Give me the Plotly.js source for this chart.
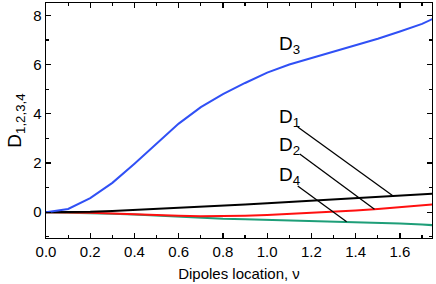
<!DOCTYPE html>
<html><head><meta charset="utf-8">
<script src="https://cdn.plot.ly/plotly-3.0.1.min.js"></script>
<style>html,body{margin:0;padding:0;background:#fff}#plot{width:436px;height:284px}</style>
</head><body><div id="plot"></div>
<script>
const nu = [0,0.1,0.2,0.3,0.4,0.5,0.6,0.7,0.8,0.9,1.0,1.1,1.2,1.3,1.4,1.5,1.6,1.7,1.75];
const D1 = [0,0.005,0.02,0.05,0.09,0.13,0.17,0.22,0.26,0.31,0.36,0.41,0.46,0.51,0.57,0.62,0.67,0.72,0.75];
const D2 = [0,-0.005,-0.02,-0.05,-0.09,-0.13,-0.15,-0.17,-0.17,-0.15,-0.12,-0.08,-0.04,0.01,0.07,0.13,0.2,0.27,0.31];
const D3 = [0,0.13,0.57,1.19,1.97,2.8,3.6,4.27,4.8,5.25,5.67,6.0,6.26,6.53,6.8,7.05,7.34,7.65,7.86];
const D4 = [0,-0.01,-0.03,-0.06,-0.1,-0.15,-0.2,-0.24,-0.27,-0.29,-0.31,-0.33,-0.35,-0.37,-0.39,-0.42,-0.46,-0.5,-0.53];
const xTicks = [0,0.2,0.4,0.6,0.8,1.0,1.2,1.4,1.6];
const xTickLabels = ['0.0','0.2','0.4','0.6','0.8','1.0','1.2','1.4','1.6'];
const yTicks = [0,2,4,6,8];
const labels = [
  {name:'1', tx:1.043, ty:3.83, lx0:1.138, ly0:3.46, lx1:1.571, ly1:0.65},
  {name:'2', tx:1.043, ty:2.69, lx0:1.147, ly0:2.36, lx1:1.485, ly1:0.12},
  {name:'3', tx:1.043, ty:6.8},
  {name:'4', tx:1.043, ty:1.47, lx0:1.138, ly0:1.06, lx1:1.359, ly1:-0.39}
];
const font = {family:'Liberation Sans, Arial, sans-serif', color:'#000'};
function tr(y,c){return {x:nu,y:y,mode:'lines',line:{color:c,width:2},hoverinfo:'skip'};}
const data = [tr(D4,'#1e9e78'), tr(D2,'#ff1010'), tr(D1,'#000000'), tr(D3,'#3050f5')];
const shapes = labels.filter(l=>l.lx0!==undefined).map(l=>({type:'line',xref:'x',yref:'y',x0:l.lx0,y0:l.ly0,x1:l.lx1,y1:l.ly1,line:{color:'#000',width:1.3}}));
const annotations = labels.map(l=>({x:l.tx,y:l.ty,xref:'x',yref:'y',xanchor:'left',yanchor:'middle',showarrow:false,text:'D<sub>'+l.name+'</sub>',font:Object.assign({},font,{size:19})}));
const axBase = {showline:true,linecolor:'#000',linewidth:1.3,mirror:'ticks',ticks:'inside',ticklen:5,tickwidth:1.2,tickcolor:'#000',showgrid:false,zeroline:false,tickfont:Object.assign({},font,{size:15})};
const layout = {
  width:436,height:284,margin:{l:46,r:4,t:3,b:46},paper_bgcolor:'#fff',plot_bgcolor:'#fff',showlegend:false,
  xaxis:Object.assign({},axBase,{range:[0,1.745],tickvals:xTicks,ticktext:xTickLabels,minor:{dtick:0.1,ticks:'inside',ticklen:3,tickcolor:'#000'},
    title:{text:'Dipoles location, ν',font:Object.assign({},font,{size:15}),standoff:9}}),
  yaxis:Object.assign({},axBase,{range:[-1.05,8.5],tickvals:yTicks,minor:{dtick:1,ticks:'inside',ticklen:3,tickcolor:'#000'},
    title:{text:'D<sub>1,2,3,4</sub>',font:Object.assign({},font,{size:19}),standoff:6}}),
  shapes:shapes, annotations:annotations
};
Plotly.newPlot('plot',data,layout,{staticPlot:true,displayModeBar:false});
</script></body></html>
